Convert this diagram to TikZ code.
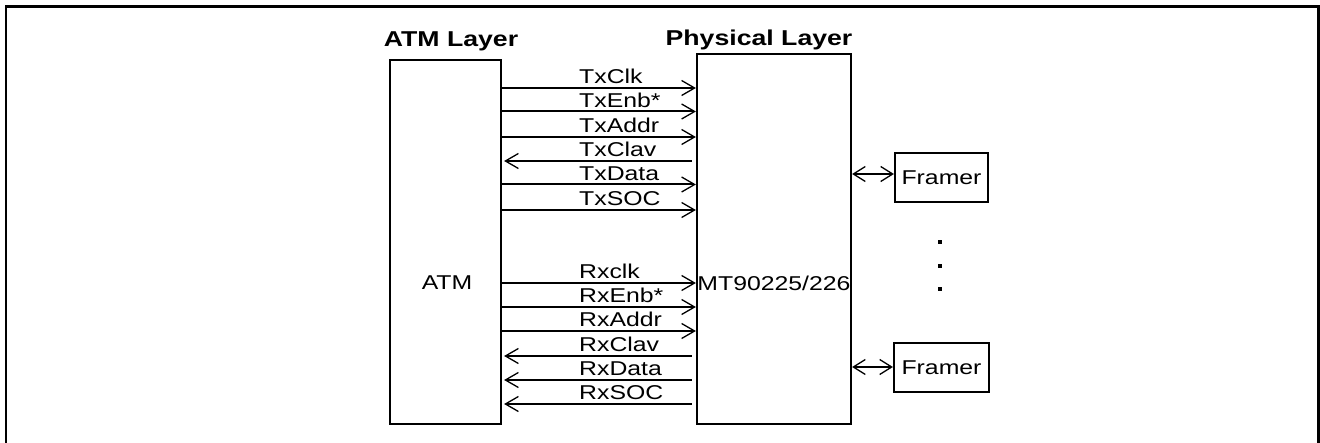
\documentclass[tikz,border=0pt]{standalone}
\usepackage{fontspec}
\setmainfont{Liberation Sans}[FakeStretch=1.24]
\usetikzlibrary{arrows.meta}
\begin{document}
\begin{tikzpicture}[x=1pt,y=-1pt,
  box/.style={draw, line width=2.2pt, inner sep=0pt},
  lbl/.style={font=\fontsize{20}{21}\selectfont, inner sep=0pt},
  ttl/.style={font=\fontsize{21.5}{22}\selectfont\bfseries, inner sep=0pt},
  sig/.style={line width=2pt},
  tip/.style={-{Straight Barb[length=13pt,width=15pt,line width=1.3pt]}},
  dbl/.style={{Straight Barb[length=12pt,width=15pt,line width=1.3pt]}-{Straight Barb[length=12pt,width=15pt,line width=1.3pt]}},
  dot/.style={fill, inner sep=0pt, minimum size=3.5pt}]
\useasboundingbox (0,0) rectangle (1320,443);
% outer frame
\draw[line width=2.5pt] (6,446) -- (6,6.5) -- (1318.5,6.5) -- (1318.5,446);
% boxes
\node[box, minimum width=111pt, minimum height=364pt] (atm) at (445.5,242) {};
\node[box, minimum width=154pt, minimum height=370pt] (phy) at (774,239) {};
\node[box, lbl, minimum width=93pt, minimum height=49pt] (fr1) at (941.5,177.5) {Framer};
\node[box, lbl, minimum width=95pt, minimum height=49pt] (fr2) at (941.5,367.5) {Framer};
% titles and inner labels
\node[ttl, anchor=base] (tatm) at (451,46.5) {ATM Layer};
\node[ttl, anchor=base] (tphy) at (759,46) {Physical Layer};
\node[lbl] (latm) at (447,283) {ATM};
\node[lbl] (lphy) at (774,283) {MT90225/226};
% signals: ATM -> PHY
\foreach \y/\t in {88/TxClk, 111.5/TxEnb*, 137/TxAddr, 184.5/TxData, 210/TxSOC,
                   283/Rxclk, 307/RxEnb*, 331/RxAddr} {
  \draw[sig, tip] (atm.east |- 0,\y) -- (phy.west |- 0,\y);
  \node[lbl, anchor=base west] at (579,\y-4) {\t};
}
% signals: PHY -> ATM
\foreach \y/\t in {161/TxClav, 356/RxClav, 380/RxData, 404/RxSOC} {
  \draw[sig, tip] ([xshift=-4pt]phy.west |- 0,\y) -- ([xshift=2pt]atm.east |- 0,\y);
  \node[lbl, anchor=base west] at (579,\y-4) {\t};
}
% framer connections
\draw[sig, dbl] (phy.east |- 0,174) -- (fr1.west |- 0,174);
\draw[sig, dbl] (phy.east |- 0,367) -- (fr2.west |- 0,367);
% dots
\node[dot] (d1) at (940,242) {};
\node[dot] (d2) at (940,266) {};
\node[dot] (d3) at (940,289) {};
\end{tikzpicture}
\end{document}
